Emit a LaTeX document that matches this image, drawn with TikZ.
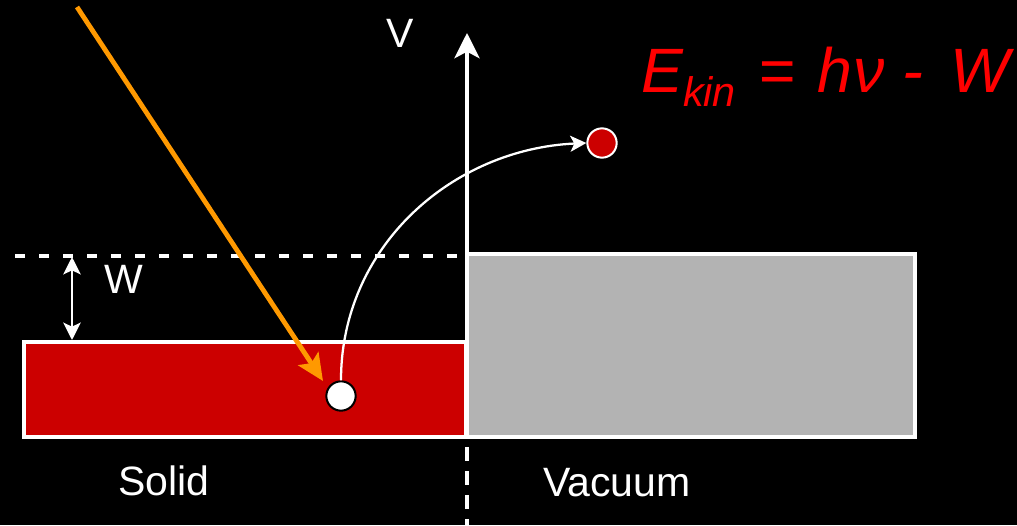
\documentclass[tikz,border=0pt]{standalone}
\usepackage{fontspec}
\setmainfont{Liberation Sans}
\usetikzlibrary{arrows.meta}

\definecolor{solidred}{RGB}{204,0,0}
\definecolor{vacgray}{RGB}{179,179,179}
\definecolor{photon}{RGB}{255,153,0}
\definecolor{eqred}{RGB}{255,0,0}

\tikzset{
  band/.style={draw=white, line width=2.8pt},
  levelline/.style={white, line width=2.8pt, dash pattern=on 7.5pt off 10.5pt},
  electron/.style={circle, inner sep=0pt, minimum size=22pt, line width=1.5pt},
  label/.style={text=white, inner sep=0pt, anchor=base, font=\fontsize{30.75}{36}\selectfont},
}

\begin{document}
\begin{tikzpicture}[x=0.75pt, y=-0.75pt]
	\useasboundingbox (0,0) rectangle (1017,525);
	\fill[black] (0,0) rectangle (1017,525);
	% solid and vacuum bands
	\draw[band, fill=solidred] (24,342) rectangle (466,437);
	\draw[band, fill=vacgray] (467,254) rectangle (915,437);
	% axis
	\coordinate (axtop) at (467,33);
	\coordinate (axbot) at (467,437);
	\coordinate (axend) at (467,525);
	\draw[white, line width=2.5pt, -{Stealth[length=19pt, width=19pt, inset=5pt]}] (axbot) -- (axtop);
	\draw[white, line width=2.5pt, dash pattern=on 10.5pt off 7.5pt] (467,447) -- (axend);
	\node[label] (vlab) at (400,47) {V};
	% vacuum level and work function
	\coordinate (lvla) at (15,256);
	\coordinate (lvlb) at (467,256);
	\draw[levelline] (lvla) -- (lvlb);
	\coordinate (wtop) at (72,257);
	\coordinate (wbot) at (72,340);
	\draw[white, line width=2.2pt, {Stealth[length=13pt, width=13pt, inset=3pt]}-{Stealth[length=13pt, width=13pt, inset=3pt]}] (wtop) -- (wbot);
	\node[label] (wlab) at (124,293) {W};
	% electrons
	\node[electron, draw=black, fill=white] (el) at (341,396) {};
	\node[electron, draw=white, fill=solidred] (ex) at (602,143) {};
	\draw[white, line width=1.7pt, -{Stealth[length=12pt, width=12pt, inset=3pt]}] (el.north) .. controls +(0,-134) and +(-134,6) .. (ex.west);
	% photon
	\coordinate (hv) at (77,7);
	\coordinate (hvtip) at (323,381);
	\draw[photon, line width=3.6pt, -{Stealth[length=20pt, width=18pt, inset=4pt]}] (hv) -- (hvtip);
	% labels
	\node[label] (solid) at (164,495) {Solid};
	\node[label] (vac) at (617,496) {Vacuum};
	\node[text=eqred, inner sep=0pt, anchor=base west, font=\fontsize{47}{50}\selectfont\itshape] (ekin) at (641,92)
		{E\raisebox{-11pt}{\fontsize{31}{33}\selectfont kin}\hspace{17pt}=\hspace{17pt}h\hspace{1pt}ν\hspace{13pt}-\hspace{20pt}W};
\end{tikzpicture}
\end{document}
